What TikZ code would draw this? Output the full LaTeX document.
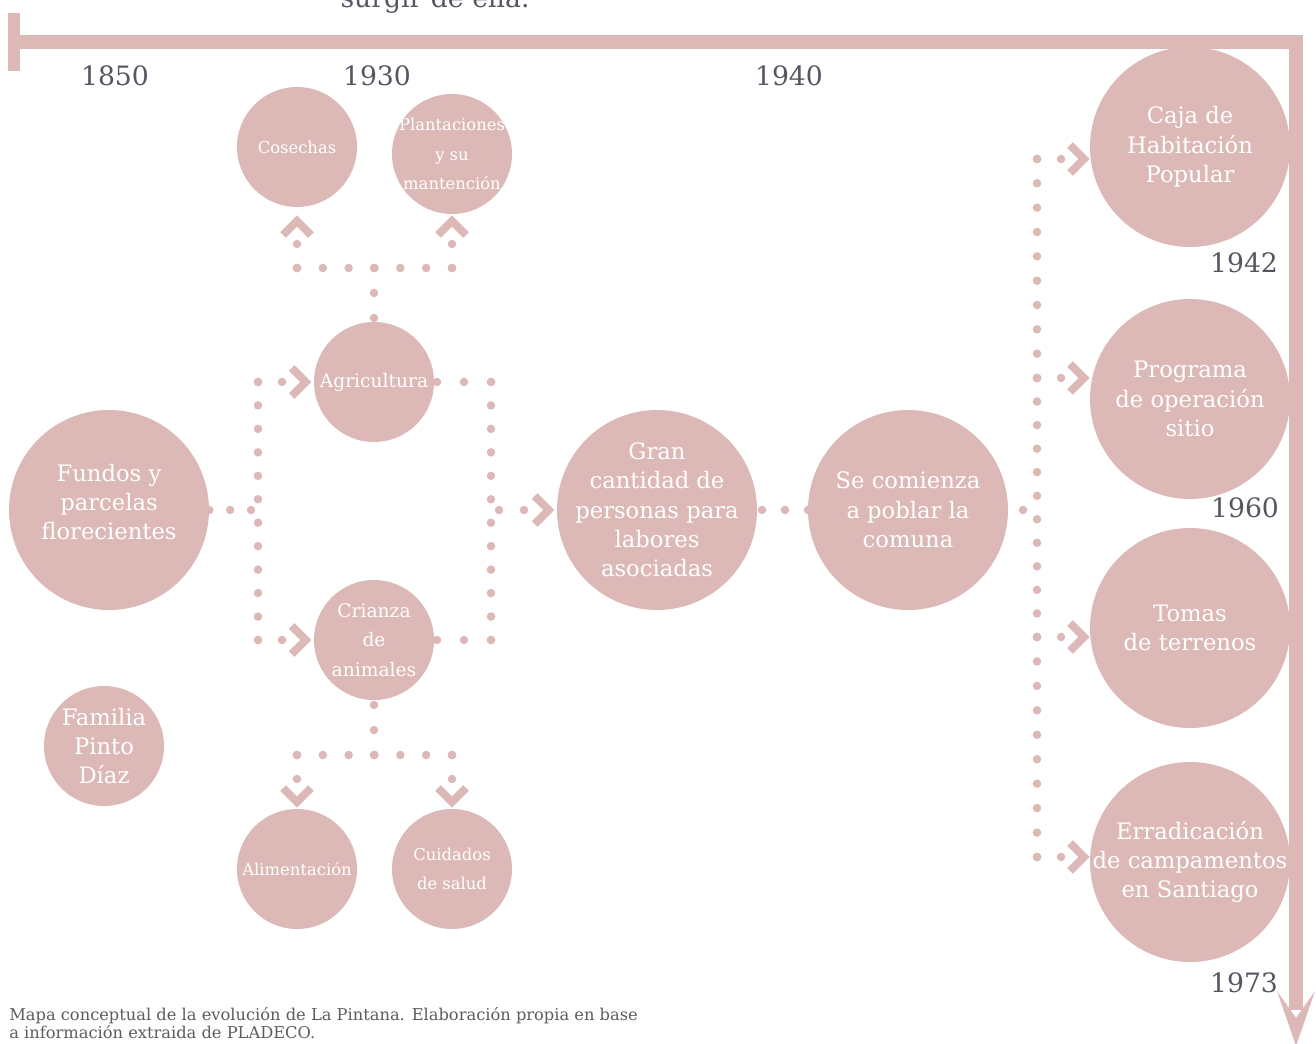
\documentclass[tikz,border=0pt]{standalone}
\usepackage{fontspec}
\setmainfont{DejaVu Serif}
\usetikzlibrary{calc}
\definecolor{rose}{HTML}{DCB9B7}
\definecolor{ink}{HTML}{555662}
\definecolor{capgray}{HTML}{5C5C5C}

% a row of evenly spaced dots from #1 to #2, #3 gaps
\newcommand\dotrun[3]{%
  \foreach \k in {0,...,#3}{\fill[rose] ($(#1)!\k/#3!(#2)$) circle[radius=3.2pt];}}

\tikzset{
  % negative inner sep keeps long labels from enlarging the disc
  bubble/.style={circle, fill=rose, text=white, inner sep=-40pt, align=center},
  big/.style={bubble, minimum size=150pt, font=\fontsize{17}{22}\selectfont},
  small/.style={bubble, minimum size=90pt, font=\fontsize{12.3}{22}\selectfont},
  mid/.style={bubble, minimum size=90pt, font=\fontsize{14}{22}\selectfont},
  year/.style={text=ink, font=\fontsize{20}{24}\selectfont, inner sep=0pt},
  timebar/.style={draw=rose, line width=10.5pt, miter limit=10},
  chevron/.pic={\draw[rose, line width=6pt, miter limit=10] (-14,-14) -- (0,0) -- (-14,14);},
}

\begin{document}
\begin{tikzpicture}[x=0.75pt, y=-0.75pt]
\useasboundingbox (0,0) rectangle (1316,1044);
\clip (0,0) rectangle (1316,1044);

% time axis
\draw[timebar] (14,42) -- (1296,42) -- (1296,1010);
\fill[rose] (8,13) rectangle (20,71);
\fill[rose] (1277,991) -- (1296,1046) -- (1315,991) -- (1296,1018) -- cycle;

\node[year, anchor=base] (cut) at (435,8) {surgir de ella.};

% years
\node[year] (y1850) at (115,76) {1850};
\node[year] (y1930) at (377,76) {1930};
\node[year] (y1940) at (789,76) {1940};
\node[year] (y1942) at (1244,263) {1942};
\node[year] (y1960) at (1245,508) {1960};
\node[year] (y1973) at (1244,983) {1973};

% concepts
\node[big] (fundos) at (109,510) {Fundos y\\parcelas\\florecientes\\[-10pt]\mbox{}};
\node[bubble, minimum size=90pt, font=\fontsize{17}{22}\selectfont] (familia) at (104,746) {Familia\\Pinto\\Díaz};
\node[small] (cosechas) at (297,147) {Cosechas};
\node[small] (plant) at (452,154) {Plantaciones\\y su\\mantención};
\node[mid] (agri) at (374,382) {Agricultura};
\node[mid] (crianza) at (374,640) {Crianza\\de\\animales};
\node[small] (alim) at (297,869) {Alimentación};
\node[small] (cuid) at (452,869) {Cuidados\\de salud};
\node[big] (gran) at (657,510) {Gran\\cantidad de\\personas para\\labores\\asociadas};
\node[big] (pobla) at (908,510) {Se comienza\\a poblar la\\comuna};
\node[big] (caja) at (1190,147) {Caja de\\Habitación\\Popular};
\node[big] (prog) at (1190,399) {Programa\\de operación\\sitio};
\node[big] (tomas) at (1190,628) {Tomas\\de terrenos};
\node[big] (erra) at (1190,862) {Erradicación\\de campamentos\\en Santiago};

% junction points of the dotted connectors
\coordinate (fj) at (251,510);
\coordinate (L1) at (258,382);
\coordinate (L2) at (258,640);
\coordinate (La) at (282,382);
\coordinate (Lb) at (282,640);
\coordinate (Ra0) at (437,382);
\coordinate (Rb0) at (437,640);
\coordinate (R1) at (491,382);
\coordinate (R2) at (491,640);
\coordinate (Rm0) at (499,510);
\coordinate (Rm1) at (524,510);
\coordinate (U0) at (374,318);
\coordinate (Um) at (374,268);
\coordinate (Ul) at (297,268);
\coordinate (Ur) at (452,268);
\coordinate (Ul1) at (297,244);
\coordinate (Ur1) at (452,244);
\coordinate (D0) at (374,705);
\coordinate (Dm) at (374,755);
\coordinate (Dl) at (297,755);
\coordinate (Dr) at (452,755);
\coordinate (Dl1) at (297,779);
\coordinate (Dr1) at (452,779);
\coordinate (G0) at (762,510);
\coordinate (G1) at (808,510);
\coordinate (P0) at (1023,510);
\coordinate (T1) at (1037,159);
\coordinate (T2) at (1037,378);
\coordinate (T3) at (1037,637);
\coordinate (T4) at (1037,857);
\coordinate (B1) at (1061,159);
\coordinate (B2) at (1061,378);
\coordinate (B3) at (1061,637);
\coordinate (B4) at (1061,857);

% Fundos -> Agricultura / Crianza
\dotrun{fundos.east}{fj}{2}
\dotrun{L1}{L2}{11}
\dotrun{L1}{La}{1}
\dotrun{L2}{Lb}{1}
\pic at ($(agri.west)+(-8,0)$) {chevron};
\pic at ($(crianza.west)+(-8,0)$) {chevron};

% Agricultura / Crianza -> Gran cantidad
\dotrun{Ra0}{R1}{2}
\dotrun{Rb0}{R2}{2}
\dotrun{R1}{R2}{11}
\dotrun{Rm0}{Rm1}{1}
\pic at ($(gran.west)+(-8,0)$) {chevron};

% Agricultura -> Cosechas / Plantaciones
\dotrun{U0}{Um}{2}
\dotrun{Ul}{Ur}{6}
\dotrun{Ul}{Ul1}{1}
\dotrun{Ur}{Ur1}{1}
\pic[rotate=90] at (297,221) {chevron};
\pic[rotate=90] at (452,221) {chevron};

% Crianza -> Alimentacion / Cuidados
\dotrun{D0}{Dm}{2}
\dotrun{Dl}{Dr}{6}
\dotrun{Dl}{Dl1}{1}
\dotrun{Dr}{Dr1}{1}
\pic[rotate=-90] at (297,802) {chevron};
\pic[rotate=-90] at (452,802) {chevron};

% Gran cantidad -> Se comienza
\dotrun{G0}{G1}{2}

% Se comienza -> later stages
\fill[rose] (P0) circle[radius=3.2pt];
\dotrun{T1}{T2}{9}
\dotrun{T2}{T3}{11}
\dotrun{T3}{T4}{9}
\dotrun{T1}{B1}{1}
\dotrun{T2}{B2}{1}
\dotrun{T3}{B3}{1}
\dotrun{T4}{B4}{1}
\pic at (1084,159) {chevron};
\pic at (1084,378) {chevron};
\pic at (1084,637) {chevron};
\pic at (1084,857) {chevron};

% caption
\node[anchor=north west, text=capgray, font=\fontsize{12.2}{13.5}\selectfont, align=left, inner sep=0pt] (cap) at (9,1007)
  {Mapa conceptual de la evolución de La Pintana. Elaboración propia en base\\a información extraida de PLADECO.};
\end{tikzpicture}
\end{document}
